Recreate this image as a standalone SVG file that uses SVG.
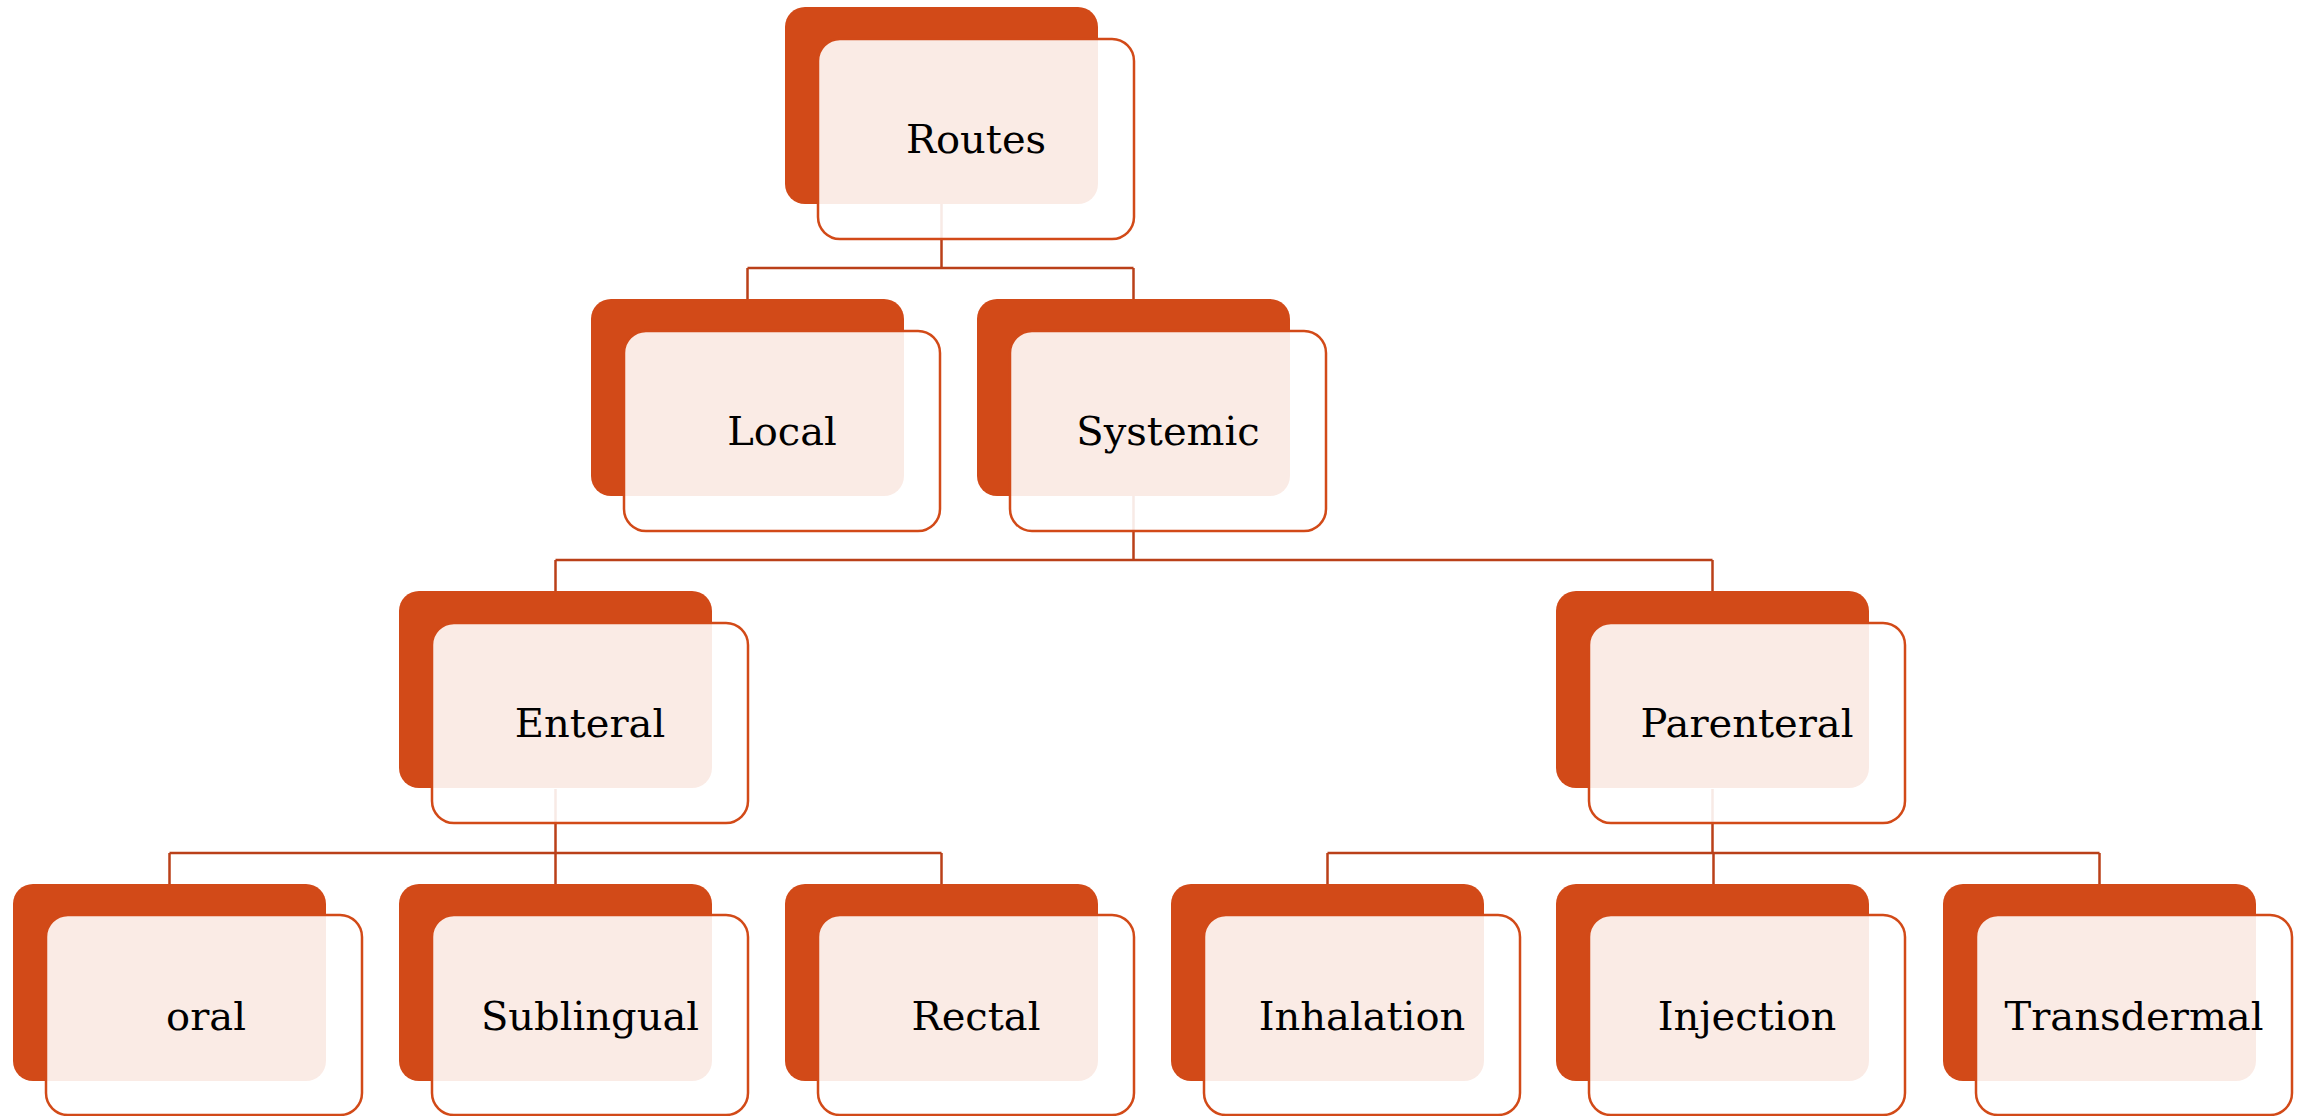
<svg xmlns="http://www.w3.org/2000/svg" width="2300" height="1116" viewBox="0 0 2300 1116">
<style>
.back{fill:#D24A18;}
.front{fill:#FFFFFF;fill-opacity:0.89;stroke:#D24A18;stroke-width:2.5;}
.lbl{font-family:"DejaVu Serif","Liberation Serif",serif;font-size:40px;fill:#000;text-anchor:middle;}
.conn{fill:none;stroke:#BA4019;stroke-width:2.5;}
</style>
<rect width="2300" height="1116" fill="#fff"/>
<g id="connectors">
<path class="conn" d="M941.5,204 V268 M747.5,268 H1133.5 M747.5,268 V299 M1133.5,268 V299"/>
<path class="conn" d="M1133.5,496 V560 M555.5,560 H1712.5 M555.5,560 V591 M1712.5,560 V591"/>
<path class="conn" d="M555.5,789 V853 M169.5,853 H941.5 M169.5,853 V884 M555.5,853 V884 M941.5,853 V884"/>
<path class="conn" d="M1712.5,789 V853 M1327.5,853 H2099.5 M1327.5,853 V884 M1713.5,853 V884 M2099.5,853 V884"/>
</g>
<g id="node-routes"><rect class="back" x="785" y="7" width="313" height="197" rx="20"/><rect class="front" x="818" y="39" width="316" height="200" rx="22"/><text class="lbl" x="976" y="153">Routes</text></g>
<g id="node-local"><rect class="back" x="591" y="299" width="313" height="197" rx="20"/><rect class="front" x="624" y="331" width="316" height="200" rx="22"/><text class="lbl" x="782" y="445">Local</text></g>
<g id="node-systemic"><rect class="back" x="977" y="299" width="313" height="197" rx="20"/><rect class="front" x="1010" y="331" width="316" height="200" rx="22"/><text class="lbl" x="1168" y="445">Systemic</text></g>
<g id="node-enteral"><rect class="back" x="399" y="591" width="313" height="197" rx="20"/><rect class="front" x="432" y="623" width="316" height="200" rx="22"/><text class="lbl" x="590" y="737">Enteral</text></g>
<g id="node-parenteral"><rect class="back" x="1556" y="591" width="313" height="197" rx="20"/><rect class="front" x="1589" y="623" width="316" height="200" rx="22"/><text class="lbl" x="1747" y="737">Parenteral</text></g>
<g id="node-oral"><rect class="back" x="13" y="884" width="313" height="197" rx="20"/><rect class="front" x="46" y="915" width="316" height="200" rx="22"/><text class="lbl" x="206" y="1030">oral</text></g>
<g id="node-sublingual"><rect class="back" x="399" y="884" width="313" height="197" rx="20"/><rect class="front" x="432" y="915" width="316" height="200" rx="22"/><text class="lbl" x="590" y="1030">Sublingual</text></g>
<g id="node-rectal"><rect class="back" x="785" y="884" width="313" height="197" rx="20"/><rect class="front" x="818" y="915" width="316" height="200" rx="22"/><text class="lbl" x="976" y="1030">Rectal</text></g>
<g id="node-inhalation"><rect class="back" x="1171" y="884" width="313" height="197" rx="20"/><rect class="front" x="1204" y="915" width="316" height="200" rx="22"/><text class="lbl" x="1362" y="1030">Inhalation</text></g>
<g id="node-injection"><rect class="back" x="1556" y="884" width="313" height="197" rx="20"/><rect class="front" x="1589" y="915" width="316" height="200" rx="22"/><text class="lbl" x="1747" y="1030">Injection</text></g>
<g id="node-transdermal"><rect class="back" x="1943" y="884" width="313" height="197" rx="20"/><rect class="front" x="1976" y="915" width="316" height="200" rx="22"/><text class="lbl" x="2134" y="1030">Transdermal</text></g>
</svg>
